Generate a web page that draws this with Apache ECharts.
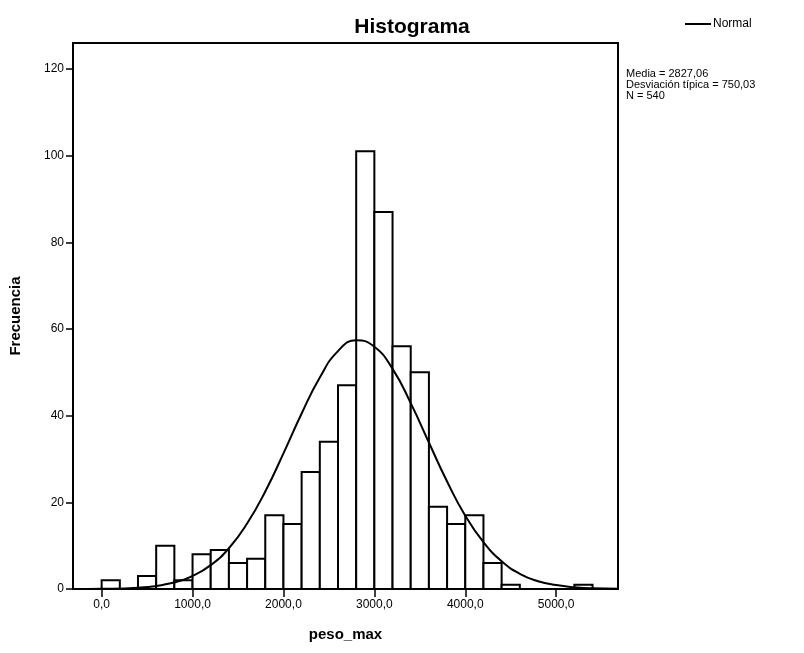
<!DOCTYPE html>
<html>
<head>
<meta charset="utf-8">
<script src="https://cdn.jsdelivr.net/npm/echarts@6/dist/echarts.min.js"></script>
<style>html,body{margin:0;padding:0;background:#fff}#c{width:804px;height:653px}</style>
</head>
<body>
<div id="c"></div>
<script>
// Histogram bins (lower/upper edges) and frequencies
const binLower = [0,200,400,600,800,1000,1200,1400,1600,1800,2000,2200,2400,2600,2800,3000,3200,3400,3600,3800,4000,4200,4400,4600,4800,5000,5200];
const binUpper = [200,400,600,800,1000,1200,1400,1600,1800,2000,2200,2400,2600,2800,3000,3200,3400,3600,3800,4000,4200,4400,4600,4800,5000,5200,5400];
const counts   = [2,0,3,10,2,8,9,6,7,17,15,27,34,47,101,87,56,50,19,15,17,6,1,0,0,0,1];
// Normal curve
const curveX = [-300,0,400,800,1000,1200,1400,1600,1800,2000,2200,2400,2600,2800,3000,3200,3400,3600,3800,4000,4200,4400,4600,4800,5000,5200,5400,5700];
const curveY = [0,0.05,0.3,1.5,3.0,5.5,9.4,15.1,22.5,31.3,40.5,48.8,54.9,57.4,55.9,50.8,42.9,33.8,24.8,16.9,10.8,6.4,3.5,1.8,0.9,0.4,0.15,0.05];
const xTicks = [0,1000,2000,3000,4000,5000];
const yTicks = [0,20,40,60,80,100,120];
const statsLines = ['Media = 2827,06','Desviación típica = 750,03','N = 540'];

const FONT = "'Liberation Sans', Arial, sans-serif";
const chart = echarts.init(document.getElementById('c'), null, {renderer:'canvas'});
const barData = binLower.map((l,i)=>[l, binUpper[i], counts[i]]);
const lineData = curveX.map((x,i)=>[x, curveY[i]]);

chart.setOption({
  animation:false,
  backgroundColor:'#fff',
  title:{text:'Histograma', left:407, top:12, textAlign:'center',
    textStyle:{fontFamily:FONT, fontSize:21, fontWeight:'bold', color:'#000'}},
  legend:{data:['Normal'], left:680, top:13, itemWidth:26, itemHeight:2, itemGap:2,
    icon:'rect',
    textStyle:{fontFamily:FONT, fontSize:12, color:'#000', padding:[0,0,0,-3]}},
  grid:{left:73, right:186, top:43, bottom:64, show:true, borderColor:'#000', borderWidth:2, backgroundColor:'#fff'},
  xAxis:{type:'value', min:-315, max:5680,
    name:'peso_max', nameLocation:'middle', nameGap:38,
    nameTextStyle:{fontFamily:FONT, fontSize:15, fontWeight:'bold', color:'#000'},
    axisLine:{show:true, onZero:false, lineStyle:{color:'#000', width:2}},
    axisTick:{show:true, length:8, lineStyle:{color:'#000', width:1.5}, customValues:xTicks},
    axisLabel:{customValues:xTicks, margin:10, fontFamily:FONT, fontSize:12, color:'#000',
      formatter:v=>v.toFixed(1).replace('.',',')},
    splitLine:{show:false}},
  yAxis:{type:'value', min:0, max:126,
    name:'Frecuencia', nameLocation:'middle', nameGap:50, nameRotate:90,
    nameTextStyle:{fontFamily:FONT, fontSize:15, fontWeight:'bold', color:'#000'},
    axisLine:{show:true, onZero:false, lineStyle:{color:'#000', width:2}},
    axisTick:{show:true, length:7, lineStyle:{color:'#000', width:1.5}, customValues:yTicks},
    axisLabel:{customValues:yTicks, margin:9, fontFamily:FONT, fontSize:12, color:'#000'},
    splitLine:{show:false}},
  graphic:[{type:'text', left:626, top:68,
    style:{text:statsLines.join('\n'), fontFamily:FONT, fontSize:11, lineHeight:11, fill:'#000'}}],
  series:[
    {type:'custom', name:'Histograma', data:barData, clip:true, z:2,
      renderItem:function(params, api){
        const c = api.value(2);
        if(!c) return null;
        const p0 = api.coord([api.value(0), c]);
        const p1 = api.coord([api.value(1), 0]);
        return {type:'rect', shape:{x:p0[0], y:p0[1], width:p1[0]-p0[0], height:p1[1]-p0[1]},
          style:{fill:'#fff', stroke:'#000', lineWidth:2}};
      }},
    {type:'line', name:'Normal', data:lineData, smooth:true, symbol:'none', clip:true, z:3,
      lineStyle:{color:'#000', width:2}, itemStyle:{color:'#000'}}
  ]
});
</script>
</body>
</html>
